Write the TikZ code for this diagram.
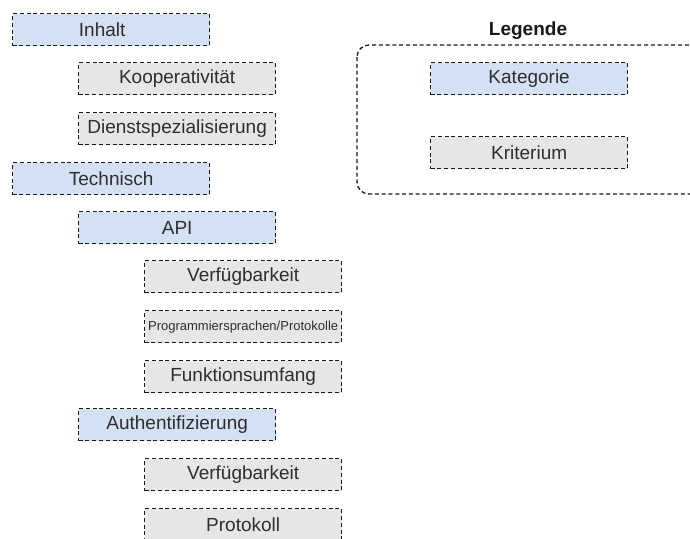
\documentclass[tikz,border=0pt]{standalone}
\usepackage{fontspec}
\setmainfont{Liberation Sans}
\begin{document}
\begin{tikzpicture}[x=1pt,y=-1pt,
  dashline/.style={draw=black!90, line width=1.3pt, dash pattern=on 4pt off 2.8pt},
  box/.style={dashline,
    minimum width=197pt, minimum height=32pt, inner sep=0pt, anchor=north west,
    font=\fontsize{19}{22}\selectfont, text=black!82},
  cat/.style={box, fill=catblue},
  crit/.style={box, fill=critgray}]
\definecolor{catblue}{HTML}{D4E1F5}
\definecolor{critgray}{HTML}{E6E6E6}
\clip (0,0) rectangle (690,538);
\useasboundingbox (0,0) rectangle (690,538);

% tree of categories and criteria
\node[cat]  (inhalt)  at (12,13)  {Inhalt\kern18pt};
\node[crit] (koop)    at (78,62)  {Kooperativität};
\node[crit] (dienst)  at (78,112) {Dienstspezialisierung};
\node[cat]  (tech)    at (12,162) {Technisch};
\node[cat]  (api)     at (78,211) {API};
\node[crit] (apiverf) at (144,260) {Verfügbarkeit};
\node[crit, font=\fontsize{13}{15}\selectfont] (sprachen) at (144,310) {Programmiersprachen/Protokolle};
\node[crit] (umfang)  at (144,360) {Funktionsumfang};
\node[cat]  (auth)    at (78,408) {Authentifizierung};
\node[crit] (authverf) at (144,458) {Verfügbarkeit};
\node[crit] (protokoll) at (144,508) {Protokoll};

% legend
\node[font=\bfseries\fontsize{19}{22}\selectfont, text=black!90] (legtitle) at (528,31) {Legende};
\draw[dashline, rounded corners=12pt] (357,45) rectangle (704,194);
\node[cat]  (legcat)  at (430,62)  {Kategorie};
\node[crit] (legcrit) at (430,136) {Kriterium};
\end{tikzpicture}
\end{document}
